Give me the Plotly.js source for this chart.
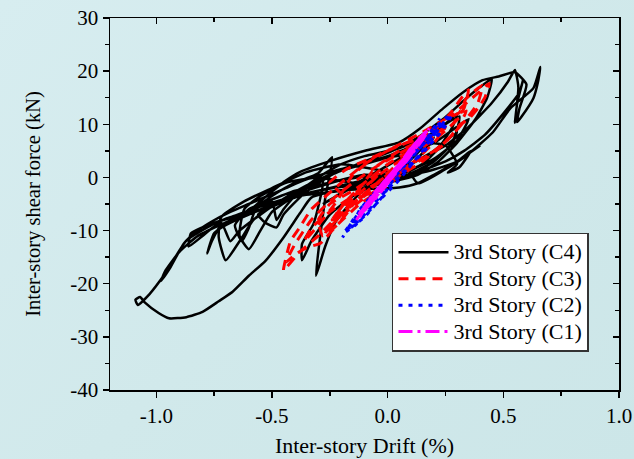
<!DOCTYPE html>
<html>
<head>
<meta charset="utf-8">
<script src="https://cdn.plot.ly/plotly-3.0.1.min.js"></script>
<style>
  html, body { margin: 0; padding: 0; }
  body { width: 634px; height: 459px; background: linear-gradient(135deg, #d7edf0 0%, #d1e9eb 50%, #cce6e8 100%); }
  #chart { width: 634px; height: 459px; }
</style>
</head>
<body>
<div id="chart"></div>
<script>
// ---------- Data ----------
const seriesNames = ["3rd Story (C4)", "3rd Story (C3)", "3rd Story (C2)", "3rd Story (C1)"];

const c4Drift = [
  0, 0.08, 0.15, 0.2, 0.16, 0.1, 0.02, -0.1, -0.2, -0.28, -0.24, -0.15, -0.05, 0.05, 0.15, 0.26, 0.3, 0.28, 0.22, 0.15, 0.06,
  -0.05, -0.2, -0.35, -0.48, -0.56, -0.53, -0.48, -0.45, -0.36, -0.24, -0.1, 0.02, 0.13, 0.24, 0.33, 0.4, 0.45, 0.43, 0.38,
  0.3, 0.22, 0.13, 0.0, -0.15, -0.3, -0.45, -0.6, -0.7, -0.75, -0.78, -0.76, -0.72, -0.65, -0.58, -0.5, -0.4, -0.3, -0.24,
  -0.27, -0.31, -0.27, -0.22, -0.12, 0.0, 0.12, 0.25, 0.35, 0.45, 0.52, 0.55, 0.565, 0.55, 0.56, 0.585, 0.57, 0.5, 0.42,
  0.33, 0.25, 0.13, 0.0, -0.15, -0.3, -0.44, -0.55, -0.62, -0.64, -0.6, -0.55, -0.5, -0.42, -0.35, -0.28, -0.32, -0.37,
  -0.37, -0.33, -0.25, -0.15, -0.05, 0.08, 0.2, 0.3, 0.26, 0.18, 0.08, -0.05, -0.2, -0.35, -0.5, -0.62, -0.72, -0.73,
  -0.7, -0.64, -0.58, -0.52, -0.45, -0.38, -0.3, -0.2, -0.1, 0.05, 0.18, 0.31, 0.28, 0.2, 0.1, -0.05, -0.2, -0.38, -0.55,
  -0.7, -0.82, -0.9, -0.96, -0.98, -0.94, -0.88, -0.82, -0.76, -0.68, -0.6, -0.52, -0.44, -0.36, -0.25, -0.12, 0.05,
  0.2, 0.35, 0.3, 0.2, 0.08, -0.05, -0.2, -0.4, -0.55, -0.68, -0.78, -0.85, -0.86, -0.8, -0.72, -0.68, -0.64, -0.55,
  -0.45, -0.35, -0.2, 0.0, 0.15, 0.25, 0.3, 0.26, 0.31, 0.36, 0.3, 0.2, 0.05, -0.1, -0.25, -0.4, -0.52, -0.6, -0.66,
  -0.63, -0.6, -0.57, -0.5, -0.48, -0.45, -0.38, -0.25, -0.1, 0.05,
  0.13, 0.24, 0.34, 0.455, 0.53, 0.63, 0.66, 0.65, 0.63, 0.58, 0.56, 0.57, 0.6, 0.55, 0.48, 0.41, 0.325, 0.24, 0.14, 0.05,
  -0.09, -0.24, -0.38, -0.44, -0.51, -0.61, -0.74, -0.87, -0.96, -1.03, -1.08, -1.09, -1.07, -1.05, -0.99, -0.945, -0.87,
  -0.8, -0.73, -0.67, -0.6, -0.53, -0.45, -0.38, -0.33, -0.22, -0.1, 0.05, 0.13, 0.2, 0.3, 0.4
];
const c4Shear = [
  0, 2.5, 5.5, 7.5, 5, 2.5, 0.5, -1, -3, -5, -4, -1.5, 1, 3.5, 6.5, 10.5, 12, 9.5, 5.5, 2.5, 0.8,
  0.5, -0.5, -2.5, -5, -7, -8.5, -9.4, -7, -3, 0.5, 3, 5, 7.5, 11, 14.5, 17, 18.5, 15, 11,
  6.5, 3, 0.5, -1, -1.5, -2.5, -4.5, -7, -9, -10.5, -14.3, -12, -9, -7.5, -6, -3.5, -1, 0.8, 3.8,
  -4, -18.5, -13, -8, -3, 0.5, 3, 6, 9.5, 14, 18, 20.2, 17, 10.3, 14, 18.3, 16, 12, 8,
  5, 3, 1, -0.5, -1, 0, -1, -3.5, -6, -11, -13.5, -10, -6.5, -4, -2, -0.5, -8.7, -12.5,
  -15.6, -12, -7, -3.5, -1, 2, 5, 8.5, 5.5, 2.5, 0.5, 1.5, 2.5, 1, -2, -4.5, -7.5, -11.3,
  -15.6, -12, -8, -6, -4.5, -2.5, 0, 2.5, 4, 5.5, 8, 11.5, 6.5, 3, 0.5, -1.5, -2.5, -3.5, -6,
  -8.5, -11, -14, -17.5, -19.5, -17, -12.4, -10, -8.3, -6.5, -5, -3.5, -2, -0.5, 1, 2.5, 4.5,
  6.5, 11, 7, 3.5, 1, 0, -1.5, -3.5, -5.5, -7.5, -9, -10.5, -13, -11, -8.5, -12, -10, -7,
  -4, -1.5, 1.5, 4, 6.5, 6, 2.5, 0.9, 1.9, 5, 3, 1.5, 0, 0.5, -1, -2.5, -4.5, -6, -9,
  -12, -9.5, -6, -4.5, -8, -6, -2.5, 0.5, 2.5, 4,
  -1.1, 1.3, 4.1, 8.5, 13, 16.8, 20.8, 18, 14.9, 11.5, 10.4, 13, 17.5, 19.8, 19, 18.3, 16, 13, 9.2, 6.6,
  5.1, 3.2, 1, -0.6, -3, -6.6, -8.5, -11.9, -18, -22, -24, -23, -22.5, -23.5, -25.5, -26.5, -26.3,
  -25.3, -23.3, -21.5, -18.5, -15.8, -11.3, -6.8, -3.8, -2.5, -2.2, -1.9, -1.1, 0.5, 3, 6
];

const c3Drift = [
  0, 0.1, 0.15, 0.1, 0.0, -0.1, -0.18, -0.12, -0.02, 0.08, 0.18, 0.25, 0.2, 0.1, 0.0, -0.12, -0.22, -0.27, -0.2, -0.12,
  -0.05, 0.05, 0.15, 0.28, 0.34, 0.3, 0.22, 0.1, -0.02, -0.15, -0.25, -0.33, -0.36, -0.3, -0.22, -0.15, -0.05, 0.08,
  0.2, 0.3, 0.38, 0.44, 0.42, 0.39, 0.35, 0.31, 0.25, 0.15, 0.02, -0.1, -0.22, -0.3, -0.38, -0.45, -0.42, -0.38,
  -0.33, -0.28, -0.2, -0.1, 0.02, 0.15, 0.25, 0.31, 0.34, 0.41, 0.39, 0.34, 0.28, 0.2, 0.1, 0.0, -0.12, -0.22, -0.29,
  -0.35, -0.4, -0.44, -0.4, -0.33, -0.25, -0.15, -0.05, 0.05, 0.12, 0.06, -0.04, -0.14, -0.22, -0.26, -0.2, -0.12, -0.03,
  -0.15, -0.25, -0.3, -0.28, -0.22, -0.15, -0.2, -0.25, -0.18, -0.08, 0.05, 0.15, 0.22, 0.27, 0.32, 0.35, 0.33, 0.28,
  0.2, 0.1, -0.02, -0.12, -0.2, -0.24, -0.18, -0.1, 0.0, 0.1, 0.2
];
const c3Shear = [
  0, 4, 6.5, 3.5, 0.5, -3, -6, -4, 0, 4, 7.5, 9.5, 6.5, 2.5, -1, -4.5, -8, -10.5, -6.5, -2,
  2, 5, 7, 10, 12.5, 9, 5.5, 2.5, -0.5, -3.5, -6.5, -9.5, -12, -9, -4.5, 0.5, 4, 6.5,
  9, 12.5, 15.5, 17.7, 15, 13, 11, 9.8, 6.5, 3, -0.5, -3.5, -7.5, -11, -14, -17.5, -12, -9.4,
  -6, -4, -1, 2.5, 5.5, 8.5, 11, 12.2, 14.9, 17.3, 14, 11, 8, 5, 2, -1.5, -5, -9, -12.4,
  -13.2, -14.5, -16, -12.5, -8, -4.5, -1, 2, 4.5, 6, 3, -1, -4.5, -7.5, -10, -7, -3, 1,
  -2.5, -5, -8, -11, -9, -5, -3, -1, 1.5, 3.5, 6, 7.5, 9.5, 12, 15, 16.5, 13, 10,
  7, 4.5, 1, -2.5, -5.5, -8, -4.5, -1, 2.5, 5, 7.5
];

const c2Drift = [
  0, 0.08, 0.15, 0.1, 0.02, -0.06, -0.12, -0.08, 0.0, 0.1, 0.2, 0.25, 0.2, 0.1, 0.0, -0.1, -0.17, -0.195, -0.15, -0.05,
  0.05, 0.15, 0.22, 0.28, 0.24, 0.16, 0.06, -0.04, -0.12, -0.18, -0.13, -0.03, 0.08, 0.18, 0.225, 0.2, 0.12, 0.03,
  -0.02, -0.1, -0.16, -0.12, -0.02, 0.1, 0.2, 0.24, 0.15, 0.05, -0.05, -0.14, -0.19, -0.1, 0.0, 0.12, 0.22, 0.26, 0.18
];
const c2Shear = [
  0, 3.5, 7, 4.5, 0.5, -3, -6, -4.5, -1, 3.5, 8.5, 10.5, 7, 2.5, -2, -6.5, -9.5, -11.3, -8, -3,
  1.5, 6, 9.5, 11.8, 9, 5, 0.5, -4, -8, -10, -7, -2, 3, 8, 11.1, 8.5, 4.5, 0,
  -3.5, -7.5, -9.5, -6, -1, 4.5, 9.3, 10.5, 5, -0.5, -5, -9, -10.5, -5, -0.5, 5.5, 10, 11.5, 6.5
];

const c1Drift = [
  0, 0.06, 0.1, 0.07, 0.0, -0.06, -0.1, -0.06, 0.02, 0.1, 0.15, 0.12, 0.04, -0.04, -0.11, -0.135, -0.1, -0.02, 0.07,
  0.14, 0.18, 0.15, 0.08, 0.0, -0.08, -0.13, -0.09, 0.0, 0.09, 0.16, 0.12, 0.03, -0.05, -0.1, -0.05, 0.05, 0.12,
  0.17, 0.13, 0.05, -0.03, -0.09, -0.12, -0.07, 0.01, 0.08, 0.15, 0.165, 0.1, 0.02, -0.06, -0.11, -0.08, -0.01,
  0.06, 0.13, 0.16, 0.11, 0.03, -0.04, -0.1
];
const c1Shear = [
  0, 3, 5.5, 3.5, 0, -3, -5.5, -3.5, 0.8, 5, 7.5, 5.5, 1.5, -2.5, -6.5, -8, -5.5, -1, 3.5,
  7.5, 9.2, 7, 3, -0.5, -4.5, -7.2, -5, -0.2, 4.5, 8, 6, 1.5, -3, -5.8, -2.5, 2.5, 6.5,
  8.8, 6, 1.8, -2.2, -5.2, -7.5, -3.8, 0.2, 3.2, 7.8, 8.6, 4.2, 0, -4.2, -6.8, -4.8, -0.8,
  2.6, 6.8, 8.4, 5.2, 0.6, -3.4, -6.2
];

const xTickVals = [-1.0, -0.5, 0.0, 0.5, 1.0];
const xTickText = ["-1.0", "-0.5", "0.0", "0.5", "1.0"];
const yTickVals = [-40, -30, -20, -10, 0, 10, 20, 30];
const yTickText = ["-40", "-30", "-20", "-10", "0", "10", "20", "30"];

// ---------- Traces ----------
const FONT = "Liberation Serif";
const legendLabel = s => '<span style="font-size:22px">' + s + '</span>';
const traces = [
  {x: c4Drift, y: c4Shear, name: legendLabel(seriesNames[0]), mode: "lines",
   line: {color: "#000000", width: 2.5, dash: "solid", shape: "spline", smoothing: 0.5}},
  {x: c3Drift, y: c3Shear, name: legendLabel(seriesNames[1]), mode: "lines",
   line: {color: "#ff0000", width: 3, dash: "10px,7px", shape: "spline", smoothing: 0.4}},
  {x: c2Drift, y: c2Shear, name: legendLabel(seriesNames[2]), mode: "lines",
   line: {color: "#0000ff", width: 3, dash: "4px,6px"}},
  {x: c1Drift, y: c1Shear, name: legendLabel(seriesNames[3]), mode: "lines",
   line: {color: "#ff00ff", width: 3, dash: "14px,5px,3px,5px"}},
  {x: [0], y: [0], xaxis: "x2", yaxis: "y2", mode: "markers", marker: {opacity: 0}, showlegend: false, hoverinfo: "skip"}
];

const axisCommon = {
  showgrid: false, zeroline: false, showline: true, linecolor: "#000", linewidth: 1.5,
  tickcolor: "#000", tickwidth: 1.5, tickfont: {family: FONT, size: 21, color: "#000"}
};

const layout = {
  width: 634, height: 459,
  margin: {l: 110, r: 15, t: 18, b: 69},
  paper_bgcolor: "rgba(0,0,0,0)",
  plot_bgcolor: "rgba(0,0,0,0)",
  font: {family: FONT, size: 21, color: "#000"},
  showlegend: true,
  xaxis: Object.assign({}, axisCommon, {
    range: [-1.2, 1.0], tickmode: "array", tickvals: xTickVals, ticktext: xTickText,
    ticks: "outside", ticklen: 6,
    minor: {tickmode: "linear", tick0: 0, dtick: 0.25, ticks: "outside", ticklen: 4, tickcolor: "#000", tickwidth: 1.5},
    title: {text: "Inter-story Drift (%)", font: {family: FONT, size: 22, color: "#000"}, standoff: 11}
  }),
  yaxis: Object.assign({}, axisCommon, {
    range: [-40, 30], tickmode: "array", tickvals: yTickVals, ticktext: yTickText,
    ticks: "outside", ticklen: 6,
    minor: {tickmode: "linear", tick0: 0, dtick: 5, ticks: "outside", ticklen: 4, tickcolor: "#000", tickwidth: 1.5},
    title: {text: "Inter-story shear force (kN)", font: {family: FONT, size: 20.5, color: "#000"}, standoff: 24}
  }),
  xaxis2: Object.assign({}, axisCommon, {
    overlaying: "x", side: "top", range: [-1.2, 1.0], tickmode: "array", tickvals: xTickVals,
    showticklabels: false, ticks: "inside", ticklen: 6,
    minor: {tickmode: "linear", tick0: 0, dtick: 0.25, ticks: "inside", ticklen: 4, tickcolor: "#000", tickwidth: 1.5}
  }),
  yaxis2: Object.assign({}, axisCommon, {
    overlaying: "y", side: "right", range: [-40, 30], tickmode: "array", tickvals: yTickVals,
    showticklabels: false, ticks: "inside", ticklen: 6,
    minor: {tickmode: "linear", tick0: 0, dtick: 5, ticks: "inside", ticklen: 4, tickcolor: "#000", tickwidth: 1.5}
  }),
  legend: {
    x: 0.554, y: 0.423, xanchor: "left", yanchor: "top",
    bgcolor: "#ffffff", bordercolor: "#333", borderwidth: 1.5,
    font: {family: FONT, size: 18, color: "#000"},
    itemwidth: 50, tracegroupgap: 0
  }
};

Plotly.newPlot("chart", traces, layout, {displayModeBar: false, staticPlot: true});
</script>
</body>
</html>
